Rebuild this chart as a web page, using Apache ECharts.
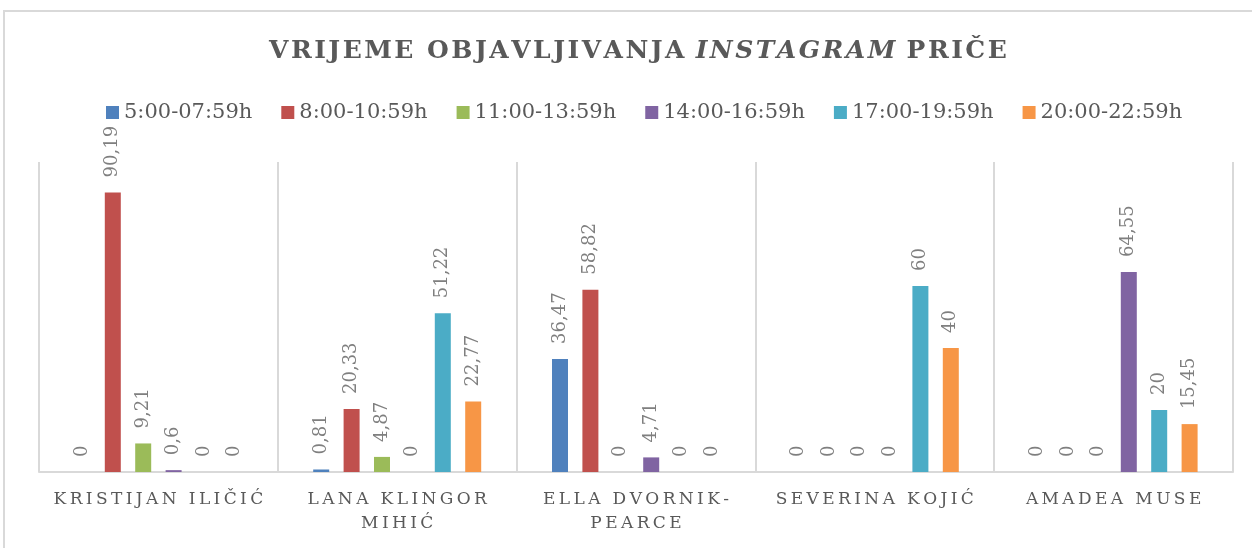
<!DOCTYPE html>
<html>
<head>
<meta charset="utf-8">
<script src="https://cdn.jsdelivr.net/npm/echarts@6/dist/echarts.min.js"></script>
<style>
  html, body { margin: 0; padding: 0; background: #fff; }
  #main { width: 1252px; height: 548px; }
</style>
</head>
<body>
<div id="main"></div>
<script>
// data
var categories = ['Kristijan Iličić', 'Lana Klingor\nMihić', 'Ella Dvornik-\nPearce', 'Severina Kojić', 'Amadea Muse']
var seriesNames = ['5:00-07:59h', '8:00-10:59h', '11:00-13:59h', '14:00-16:59h', '17:00-19:59h', '20:00-22:59h']
var s0500 = [0, 0.81, 36.47, 0, 0]
var s0800 = [90.19, 20.33, 58.82, 0, 0]
var s1100 = [9.21, 4.87, 0, 0, 0]
var s1400 = [0.6, 0, 4.71, 0, 64.55]
var s1700 = [0, 51.22, 0, 60, 20]
var s2000 = [0, 22.77, 0, 40, 15.45]
var seriesData = [s0500, s0800, s1100, s1400, s1700, s2000]
var colors = ['#4F81BD', '#C0504D', '#9BBB59', '#8064A2', '#4BACC6', '#F79646']

var FONT = '"DejaVu Serif", serif'

// fake letter spacing with thin spaces
function spaced (s, sp) {
  return s.split('\n').map(function (line) {
    return line.split('').join(sp)
  }).join('\n')
}

var series = seriesNames.map(function (name, i) {
  return {
    name: name,
    type: 'bar',
    data: seriesData[i],
    barWidth: 16,
    barGap: '90%',
    itemStyle: { color: colors[i] },
    label: {
      show: true,
      position: 'top',
      rotate: 90,
      align: 'left',
      verticalAlign: 'middle',
      distance: 15,
      fontFamily: FONT,
      fontSize: 18,
      color: '#7f7f7f',
      formatter: function (p) {
        return String(p.value).replace('.', ',')
      }
    }
  }
})

var option = {
  animation: false,
  backgroundColor: '#fff',
  color: colors,
  title: {
    text: '{a|' + spaced('VRIJEME OBJAVLJIVANJA ', '\u200A') + '}{b|' + spaced('INSTAGRAM', '\u200A') + '}{a|' + spaced(' PRIČE', '\u200A') + '}',
    left: 264,
    top: 34,
    textStyle: {
      rich: {
        a: { fontFamily: FONT, fontSize: 25, fontWeight: 'bold', color: '#595959' },
        b: { fontFamily: FONT, fontSize: 25, fontWeight: 'bold', fontStyle: 'italic', color: '#595959' }
      }
    }
  },
  legend: {
    top: 97,
    left: 101,
    itemWidth: 13,
    itemHeight: 13,
    itemGap: 29,
    icon: 'rect',
    textStyle: { fontFamily: FONT, fontSize: 21, color: '#595959' },
    data: seriesNames
  },
  grid: {
    left: 39,
    right: 19,
    top: 162,
    bottom: 76
  },
  xAxis: {
    type: 'category',
    data: categories,
    axisLine: { lineStyle: { color: '#d9d9d9', width: 2 } },
    axisTick: { show: false },
    splitLine: { show: true, lineStyle: { color: '#d9d9d9', width: 2 } },
    axisLabel: {
      interval: 0,
      margin: 16,
      fontFamily: FONT,
      fontSize: 17,
      lineHeight: 24,
      color: '#595959',
      formatter: function (v) {
        return spaced(v.toUpperCase(), '\u2009')
      }
    }
  },
  yAxis: {
    type: 'value',
    min: 0,
    max: 100,
    show: false
  },
  graphic: [{
    type: 'rect',
    shape: { x: 4, y: 11, width: 1270, height: 560 },
    style: { fill: 'none', stroke: '#d9d9d9', lineWidth: 2 },
    silent: true
  }],
  series: series
}

var chart = echarts.init(document.getElementById('main'))
chart.setOption(option)
</script>
</body>
</html>
